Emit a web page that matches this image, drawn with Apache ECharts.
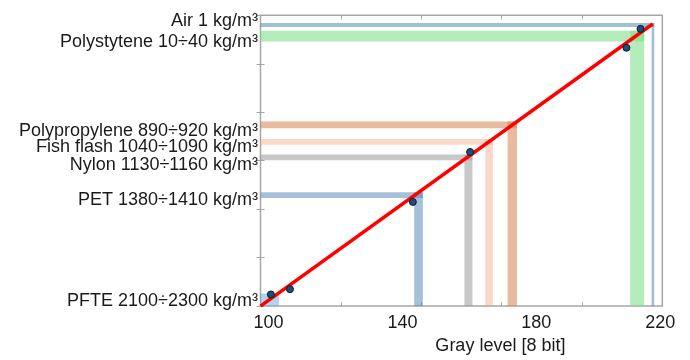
<!DOCTYPE html>
<html><head><meta charset="utf-8">
<script src="https://cdn.jsdelivr.net/npm/echarts@6/dist/echarts.min.js"></script>
<style>html,body{margin:0;padding:0;background:#fff}#c{width:690px;height:360px}</style>
</head><body><div id="c"></div>
<script>
// ---- data ----
const materials = ['Air 1 kg/m³', 'Polystytene 10÷40 kg/m³', 'Polypropylene 890÷920 kg/m³', 'Fish flash 1040÷1090 kg/m³', 'Nylon 1130÷1160 kg/m³', 'PET 1380÷1410 kg/m³', 'PFTE 2100÷2300 kg/m³'];
const grayLow  = [216.8, 210.4, 173.8, 167.1, 160.9, 145.9, 100];
const grayHigh = [217.6, 214.6, 176.6, 169.4, 163.3, 148.5, 105.5];
const levelLow  = [5.76, 5.46, 3.67, 3.33, 3.01, 2.23, 0];
const levelHigh = [5.84, 5.68, 3.81, 3.45, 3.13, 2.35, 0.26];
const pointGray  = [103.1, 108.8, 145.5, 162.6, 209.3, 213.5];
const pointLevel = [0.24, 0.35, 2.15, 3.18, 5.33, 5.72];
const fitGray  = [100, 217.1];
const fitLevel = [0, 5.82];
const xTickLabels = [100, 140, 180, 220];
const grayMin = 100, grayMax = 220;

// ---- style ----
const bandColors = ['rgba(70,130,170,0.5)', 'rgba(124,222,133,0.58)', 'rgba(214,130,80,0.55)', 'rgba(240,160,120,0.4)', 'rgba(150,150,150,0.52)', 'rgba(80,130,180,0.5)', 'rgba(110,170,220,0.3)'];
const labelShift = [-4, 6, 6, 5.5, 7.5, 4.5, 1];
const FONT = "'Liberation Sans', Arial, sans-serif";
const TXT = '#1a1a1a';
const AX = '#a6a6a6';

const chart = echarts.init(document.getElementById('c'), null, {renderer: 'canvas'});

const bandSeries = materials.map((name, i) => ({
  type: 'line', name, data: [], xAxisIndex: 0, yAxisIndex: 0, clip: false, silent: true, z: 1,
  markArea: {
    silent: true,
    itemStyle: {color: bandColors[i], borderWidth: 0},
    label: {show: false},
    emphasis: {disabled: true},
    data: [
      [{xAxis: grayMin, yAxis: levelLow[i],
        label: {show: true, position: 'left', distance: 2.5, offset: [0, labelShift[i]], formatter: name, color: TXT, fontSize: 18, fontFamily: FONT}},
       {xAxis: grayHigh[i], yAxis: levelHigh[i]}],
      [{xAxis: grayLow[i], yAxis: 0}, {xAxis: grayHigh[i], yAxis: levelHigh[i]}]
    ]
  }
}));

const tickAxis = (pos) => ({
  type: 'value', min: 0, max: 5, interval: 1, position: pos,
  axisLine: {show: false}, axisLabel: {show: false}, splitLine: {show: false},
  axisTick: {show: true, inside: true, length: 4, lineStyle: {color: AX, width: 1}}
});
const yTickAxis = (pos) => ({
  type: 'value', min: 0, max: 6, interval: 1, position: pos,
  axisLine: {show: false}, axisLabel: {show: false}, splitLine: {show: false},
  axisTick: {show: true, inside: true, length: 4, lineStyle: {color: AX, width: 1}}
});

chart.setOption({
  animation: false,
  backgroundColor: '#fff',
  grid: {left: 260.5, right: 27.7, top: 15.3, bottom: 49.3, show: true, borderColor: AX, borderWidth: 1.5, backgroundColor: 'transparent'},
  xAxis: [
    {type: 'value', min: grayMin, max: grayMax, interval: 20, position: 'bottom',
     axisLine: {show: false}, axisTick: {show: false}, splitLine: {show: false},
     axisLabel: {margin: 8, color: TXT, fontSize: 18, fontFamily: FONT,
       formatter: v => xTickLabels.includes(v) ? (v === grayMax ? '{b|' + v + '}' : '{a|' + v + '}') : '',
       rich: {a: {padding: [0, 0, 0, 16], fontSize: 18, fontFamily: FONT, color: TXT},
              b: {padding: [0, 4, 0, 0], fontSize: 18, fontFamily: FONT, color: TXT}}},
     name: 'Gray level [8 bit]', nameLocation: 'middle', nameGap: 28,
     nameTextStyle: {color: TXT, fontSize: 18, fontFamily: FONT, padding: [0, 0, 0, 78]}},
    tickAxis('bottom'),
    tickAxis('top')
  ],
  yAxis: [yTickAxis('left'), yTickAxis('right')],
  series: [
    ...bandSeries,
    {type: 'line', name: 'fit', xAxisIndex: 0, yAxisIndex: 0, z: 3, silent: true,
     data: fitGray.map((g, i) => [g, fitLevel[i]]), symbol: 'none',
     lineStyle: {color: '#ff0000', width: 3.5}},
    {type: 'scatter', name: 'points', xAxisIndex: 0, yAxisIndex: 0, z: 4, silent: true,
     data: pointGray.map((g, i) => [g, pointLevel[i]]), symbolSize: 7,
     itemStyle: {color: '#1f4e79', borderColor: '#0b1c2e', borderWidth: 1, opacity: 1}}
  ]
});
</script>
</body></html>
